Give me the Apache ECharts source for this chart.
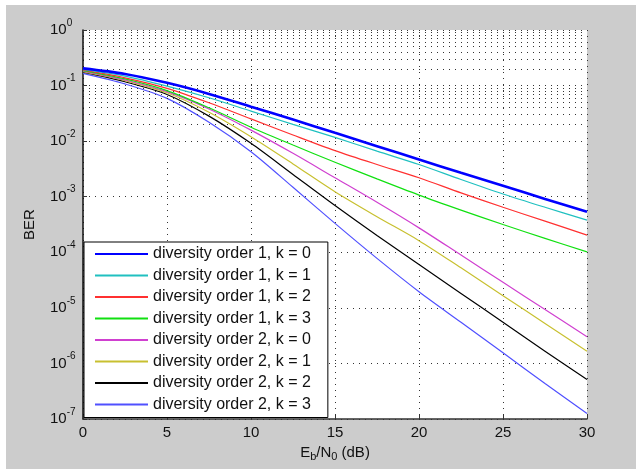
<!DOCTYPE html>
<html>
<head>
<meta charset="utf-8">
<script src="https://cdn.jsdelivr.net/npm/echarts@6/dist/echarts.min.js"></script>
<style>
html, body { margin: 0; padding: 0; background: #fff; }
#chart { position: absolute; left: 6px; top: 5px; width: 630px; height: 464px; }
</style>
</head>
<body>
<div id="chart"></div>
<script>
// Eb/N0 sample points (dB)
var ebn0 = [0, 2.5, 5, 7.5, 10, 12.5, 15, 17.5, 20, 22.5, 25, 27.5, 30];

// BER
var div1k0 = [2.04e-1, 1.62e-1, 1.12e-1, 7.08e-2, 4.17e-2, 2.45e-2, 1.41e-2, 8.13e-3, 4.68e-3, 2.69e-3, 1.58e-3, 9.12e-4, 5.37e-4];
var div1k1 = [1.95e-1, 1.48e-1, 9.77e-2, 6.03e-2, 3.47e-2, 2.00e-2, 1.17e-2, 6.61e-3, 3.80e-3, 2.04e-3, 1.12e-3, 6.46e-4, 3.80e-4];
var div1k2 = [1.91e-1, 1.38e-1, 8.91e-2, 4.90e-2, 2.51e-2, 1.29e-2, 6.76e-3, 3.80e-3, 2.19e-3, 1.17e-3, 6.46e-4, 3.63e-4, 2.04e-4];
var div1k3 = [1.86e-1, 1.32e-1, 8.13e-2, 3.98e-2, 1.78e-2, 8.51e-3, 4.17e-3, 2.09e-3, 1.07e-3, 5.75e-4, 3.16e-4, 1.78e-4, 1.02e-4];
var div2k0 = [1.82e-1, 1.26e-1, 7.76e-2, 3.80e-2, 1.58e-2, 6.03e-3, 2.19e-3, 7.94e-4, 2.75e-4, 8.91e-5, 2.88e-5, 9.33e-6, 3.02e-6];
var div2k1 = [1.78e-1, 1.23e-1, 7.41e-2, 3.31e-2, 1.20e-2, 3.89e-3, 1.23e-3, 4.37e-4, 1.62e-4, 5.25e-5, 1.66e-5, 5.25e-6, 1.66e-6];
var div2k2 = [1.74e-1, 1.17e-1, 6.92e-2, 2.82e-2, 9.12e-3, 2.51e-3, 6.92e-4, 2.00e-4, 6.03e-5, 1.82e-5, 5.50e-6, 1.66e-6, 5.13e-7];
var div2k3 = [1.66e-1, 1.07e-1, 5.89e-2, 2.19e-2, 6.46e-3, 1.48e-3, 3.31e-4, 7.76e-5, 1.95e-5, 5.50e-6, 1.55e-6, 4.37e-7, 1.26e-7];

var names = [
    'diversity order 1, k = 0', 'diversity order 1, k = 1',
    'diversity order 1, k = 2', 'diversity order 1, k = 3',
    'diversity order 2, k = 0', 'diversity order 2, k = 1',
    'diversity order 2, k = 2', 'diversity order 2, k = 3'
];
var curves = [div1k0, div1k1, div1k2, div1k3, div2k0, div2k1, div2k2, div2k3];
var colors = ['#0000ff', '#20c0c0', '#ff3030', '#10e010', '#d040d0', '#c8c030', '#000000', '#5050ff'];
var widths = [2.6, 1.2, 1.2, 1.2, 1.2, 1.2, 1.2, 1.2];

// log grid: decades and minor mantissas
var decades = [1e-7, 1e-6, 1e-5, 1e-4, 1e-3, 1e-2, 1e-1];
var mantissas = [2, 3, 4, 5, 6, 7, 8, 9];

var FONT = 'Liberation Sans, Arial, sans-serif';
var dotted = { type: [1, 5], color: '#333', width: 1 };

var minorLines = [];
decades.forEach(function (d) {
    mantissas.forEach(function (m) {
        minorLines.push({ yAxis: m * d });
    });
});

var series = curves.map(function (c, i) {
    return {
        name: names[i],
        type: 'line',
        symbol: 'none',
        smooth: 0.3,
        data: ebn0.map(function (x, j) { return [x, c[j]]; }),
        lineStyle: { color: colors[i], width: widths[i] },
        itemStyle: { color: colors[i] },
        z: 10 - i
    };
});
series.push({
    name: 'minor',
    type: 'line',
    data: [],
    silent: true,
    markLine: {
        silent: true,
        symbol: 'none',
        label: { show: false },
        lineStyle: dotted,
        emphasis: { disabled: true },
        data: minorLines
    },
    z: 1
});

var chart = echarts.init(document.getElementById('chart'));
chart.setOption({
    animation: false,
    backgroundColor: '#cccccc',
    textStyle: { fontFamily: FONT },
    grid: {
        left: 77, right: 49, top: 25, bottom: 50,
        show: true, backgroundColor: '#ffffff', borderWidth: 0
    },
    legend: {
        data: names,
        orient: 'vertical',
        left: 78, top: 237,
        padding: [4, 17, 5, 10],
        itemWidth: 53, itemHeight: 14, itemGap: 5.5,
        itemStyle: { opacity: 0 },
        backgroundColor: '#ffffff',
        borderColor: '#000', borderWidth: 1, borderRadius: 0,
        textStyle: { fontFamily: FONT, fontSize: 16, color: '#111', lineHeight: 16 }
    },
    xAxis: {
        type: 'value', min: 0, max: 30, interval: 5,
        name: '{n|E}{sub|b}{n|/N}{sub|0}{n| (dB)}',
        nameLocation: 'middle', nameGap: 25,
        nameTextStyle: {
            rich: {
                n: { fontFamily: FONT, fontSize: 15, color: '#111', lineHeight: 15, verticalAlign: 'top' },
                sub: { fontFamily: FONT, fontSize: 11, color: '#111', lineHeight: 18, verticalAlign: 'bottom' }
            }
        },
        axisLine: { lineStyle: { color: '#333', width: 1.5 } },
        axisTick: { inside: true, length: 4, lineStyle: { color: '#333' } },
        axisLabel: { fontFamily: FONT, fontSize: 15, color: '#111', margin: 6 },
        splitLine: { show: true, lineStyle: dotted }
    },
    yAxis: {
        type: 'log', logBase: 10, min: 1e-7, max: 1, interval: 1,
        name: 'BER',
        nameLocation: 'middle', nameGap: 46,
        nameTextStyle: { fontFamily: FONT, fontSize: 15, color: '#111' },
        axisLine: { show: true, lineStyle: { color: '#111', width: 1.5 } },
        axisTick: { show: true, inside: true, length: 4, lineStyle: { color: '#333' } },
        axisLabel: {
            align: 'left', margin: 33,
            formatter: function (v) {
                var e = Math.round(Math.log10(v));
                return '{b|10}{s|' + e + '}';
            },
            rich: {
                b: { fontFamily: FONT, fontSize: 15, color: '#111', lineHeight: 24 },
                s: { fontFamily: FONT, fontSize: 10, color: '#111', lineHeight: 10, verticalAlign: 'top' }
            }
        },
        splitLine: { show: true, lineStyle: dotted }
    },
    series: series
});
</script>
</body>
</html>
